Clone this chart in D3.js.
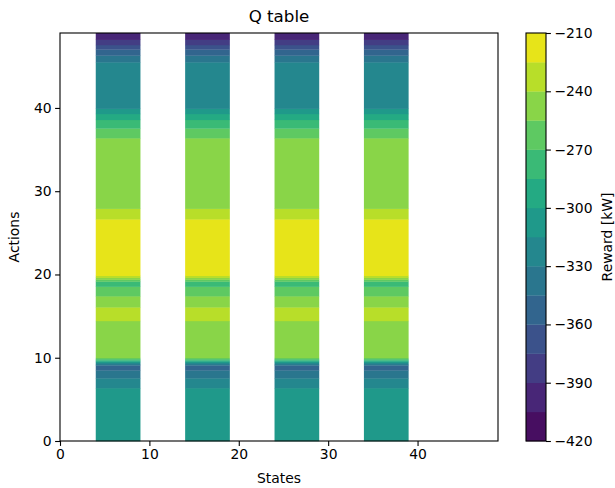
<!DOCTYPE html>
<html>
<head>
<meta charset="utf-8">
<script src="https://cdn.jsdelivr.net/npm/d3@7"></script>
<style>
  body { margin: 0; background: #fff; }
  svg text { font-family: "DejaVu Sans", sans-serif; fill: #000; }
</style>
</head>
<body>
<svg id="chart" width="615" height="488"></svg>
<script>
// Visited state ranges (inclusive); all other states have no Q value.
const stateBlocks = [[4, 9], [14, 19], [24, 29], [34, 39]];

// Reward per action (0..49) in the visited states [kW].
const actionReward = [
  -306, -306, -306, -306, -306, -306, -310, -324, -335, -355,
  -253, -248, -247, -247, -246, -232, -239, -253, -258, -280,
  -215, -214, -214, -214, -214, -214, -216, -230, -241, -245,
  -245, -245, -245, -245, -245, -245, -249, -265, -274, -293,
  -317, -320, -320, -320, -320, -321, -339, -359, -387, -402
];

// Contour levels and tick labels
const levels = d3.range(-420, -209, 15);
const xTicks = [0, 10, 20, 30, 40];
const yTicks = [0, 10, 20, 30, 40];
const cbarTicks = [-420, -390, -360, -330, -300, -270, -240, -210];

const svg = d3.select("#chart");
const plot = { left: 60, right: 498, top: 33, bottom: 441 };
const cbar = { left: 526, right: 546 };
const FS = 13.9;

const x = d3.scaleLinear().domain([0, 49]).range([plot.left, plot.right]);
const y = d3.scaleLinear().domain([0, 49]).range([plot.bottom, plot.top]);
const vmin = levels[0], vmax = levels[levels.length - 1];
const bandColor = k => d3.interpolateViridis(((levels[k] + levels[k + 1]) / 2 - vmin) / (vmax - vmin));

// Filled contour bands along the action axis (linear interpolation between rows)
function bandPieces(vals) {
  const pieces = [];
  for (let a = 0; a < vals.length - 1; a++) {
    const v0 = vals[a], v1 = vals[a + 1];
    const segs = [];
    for (let k = 0; k < levels.length - 1; k++) {
      const lo = levels[k], hi = levels[k + 1];
      let t0, t1;
      if (v0 === v1) {
        if (v0 >= lo && v0 < hi) { t0 = 0; t1 = 1; } else continue;
      } else {
        const ta = (lo - v0) / (v1 - v0), tb = (hi - v0) / (v1 - v0);
        t0 = Math.max(0, Math.min(ta, tb));
        t1 = Math.min(1, Math.max(ta, tb));
      }
      if (t1 > t0) segs.push({ k, a0: a + t0, a1: a + t1 });
    }
    segs.sort((p, q) => p.a0 - q.a0);
    for (const s of segs) {
      const last = pieces[pieces.length - 1];
      if (last && last.k === s.k && Math.abs(last.a1 - s.a0) < 1e-9) last.a1 = s.a1;
      else pieces.push(s);
    }
  }
  return pieces;
}
const pieces = bandPieces(actionReward);

const field = svg.append("g");
stateBlocks.forEach(([s0, s1]) => {
  field.append("g").selectAll("rect").data(pieces).join("rect")
    .attr("x", x(s0))
    .attr("width", x(s1) - x(s0))
    .attr("y", d => y(d.a1))
    .attr("height", d => y(d.a0) - y(d.a1) + 0.3)
    .attr("fill", d => bandColor(d.k));
});

// Axes
const xAxis = svg.append("g").attr("transform", `translate(0,${plot.bottom})`)
  .call(d3.axisBottom(x).tickValues(xTicks).tickSize(4.9).tickPadding(3.5).tickSizeOuter(0));
const yAxis = svg.append("g").attr("transform", `translate(${plot.left},0)`)
  .call(d3.axisLeft(y).tickValues(yTicks).tickSize(4.9).tickPadding(3.5).tickSizeOuter(0));
[xAxis, yAxis].forEach(g => {
  g.select(".domain").remove();
  g.selectAll("line").attr("stroke", "#000").attr("stroke-width", 1.1);
  g.selectAll("text").attr("font-size", FS).attr("font-family", "DejaVu Sans");
});

// Frame
svg.append("rect")
  .attr("x", plot.left).attr("y", plot.top)
  .attr("width", plot.right - plot.left).attr("height", plot.bottom - plot.top)
  .attr("fill", "none").attr("stroke", "#000").attr("stroke-width", 1.1);

// Titles
svg.append("text").attr("x", (plot.left + plot.right) / 2).attr("y", 22)
  .attr("text-anchor", "middle").attr("font-size", 16.7).text("Q table");
svg.append("text").attr("x", (plot.left + plot.right) / 2).attr("y", 483)
  .attr("text-anchor", "middle").attr("font-size", FS).text("States");
svg.append("text").attr("transform", `translate(19,${(plot.top + plot.bottom) / 2}) rotate(-90)`)
  .attr("text-anchor", "middle").attr("font-size", FS).text("Actions");

// Colorbar
const cy = d3.scaleLinear().domain([vmin, vmax]).range([plot.bottom, plot.top]);
svg.append("g").selectAll("rect").data(d3.range(levels.length - 1)).join("rect")
  .attr("x", cbar.left).attr("width", cbar.right - cbar.left)
  .attr("y", k => cy(levels[k + 1]))
  .attr("height", k => cy(levels[k]) - cy(levels[k + 1]) + 0.3)
  .attr("fill", k => bandColor(k));
svg.append("rect")
  .attr("x", cbar.left).attr("y", plot.top)
  .attr("width", cbar.right - cbar.left).attr("height", plot.bottom - plot.top)
  .attr("fill", "none").attr("stroke", "#000").attr("stroke-width", 1.1);
const cAxis = svg.append("g").attr("transform", `translate(${cbar.right},0)`)
  .call(d3.axisRight(cy).tickValues(cbarTicks).tickSize(4.9).tickPadding(3.5).tickSizeOuter(0));
cAxis.select(".domain").remove();
cAxis.selectAll("line").attr("stroke", "#000").attr("stroke-width", 1.1);
cAxis.selectAll("text").attr("font-size", FS).attr("font-family", "DejaVu Sans");
svg.append("text").attr("transform", `translate(608,${(plot.top + plot.bottom) / 2}) rotate(-90)`)
  .attr("text-anchor", "middle").attr("dominant-baseline", "middle")
  .attr("font-size", FS).text("Reward [kW]");
</script>
</body>
</html>
